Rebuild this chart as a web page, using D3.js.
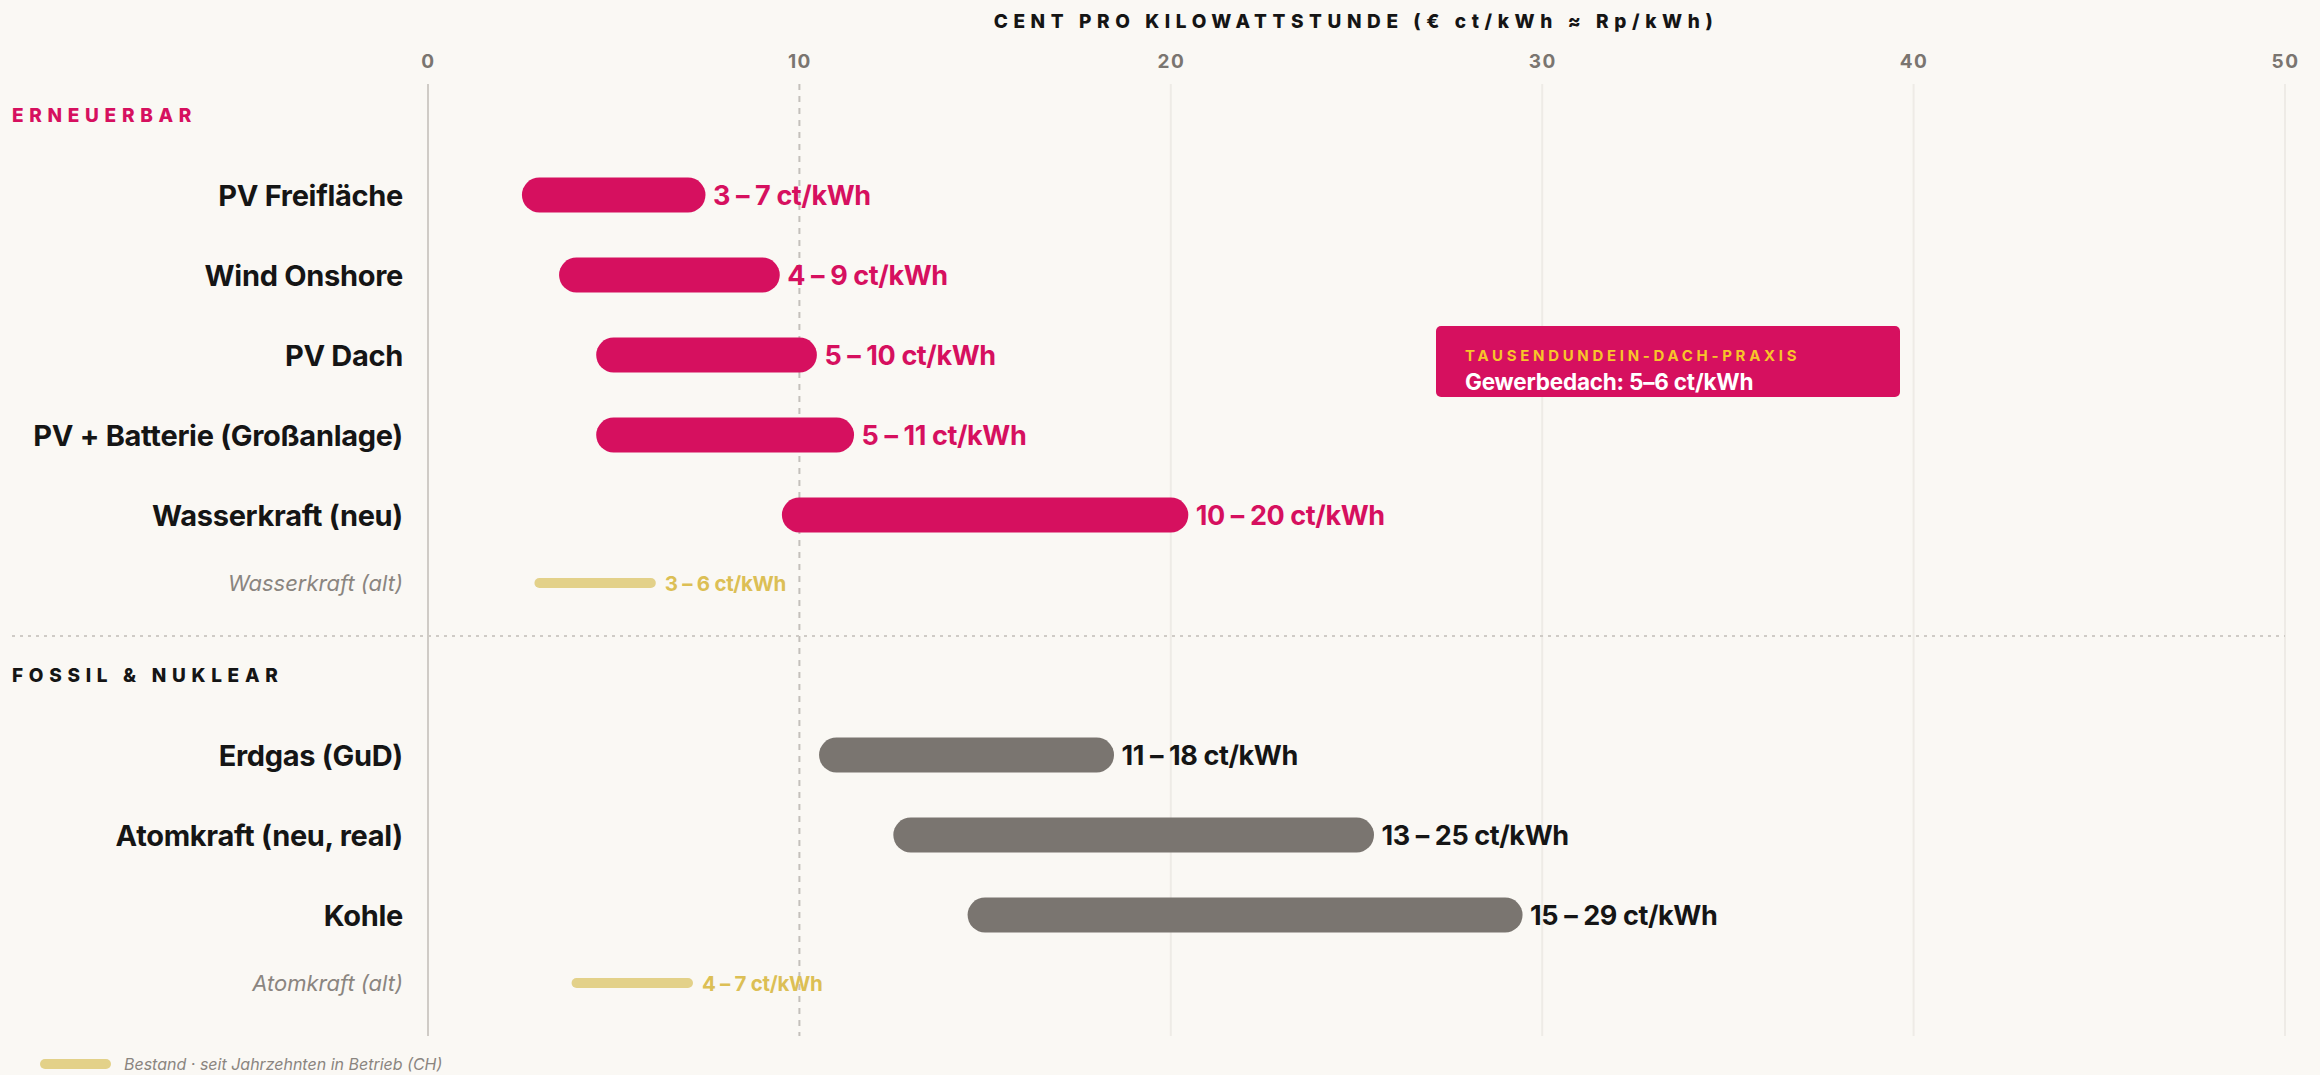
<!DOCTYPE html>
<html>
<head>
<meta charset="utf-8">
<script src="https://cdn.jsdelivr.net/npm/d3@7"></script>
<style>
  html, body { margin: 0; padding: 0; background: #faf8f4; }
  svg { display: block; font-family: Inter, "Noto Sans", sans-serif; }
</style>
</head>
<body>
<div id="chart"></div>
<script>
// values (ct/kWh)
const renewableNames = ["PV Freifläche", "Wind Onshore", "PV Dach", "PV + Batterie (Großanlage)", "Wasserkraft (neu)"];
const renewableLow = [3, 4, 5, 5, 10];
const renewableHigh = [7, 9, 10, 11, 20];

const fossilNames = ["Erdgas (GuD)", "Atomkraft (neu, real)", "Kohle"];
const fossilLow = [11, 13, 15];
const fossilHigh = [18, 25, 29];

const legacyNames = ["Wasserkraft (alt)", "Atomkraft (alt)"];
const legacyLow = [3, 4];
const legacyHigh = [6, 7];

const xTicks = [0, 10, 20, 30, 40, 50];
const sectionTitles = ["ERNEUERBAR", "FOSSIL & NUKLEAR"];
const axisTitle = "CENT PRO KILOWATTSTUNDE (€ ct/kWh ≈ Rp/kWh)";
const noteTitle = "TAUSENDUNDEIN-DACH-PRAXIS";
const noteText = "Gewerbedach: 5–6 ct/kWh";
const legendText = "Bestand · seit Jahrzehnten in Betrieb (CH)";

const width = 2320, height = 1075;
const pink = "#d6105f", gray = "#7a7570", gold = "#e3d189", goldText = "#dcbf55", dark = "#151515";

const svg = d3.select("#chart").append("svg")
  .attr("width", width)
  .attr("height", height);

const x = d3.scaleLinear().domain([0, 50]).range([428, 2285]);

// row layout
const rowStep = 80, altStep = 68;
const groups = [
  { title: sectionTitles[0], names: renewableNames, low: renewableLow, high: renewableHigh, color: pink, textColor: pink, legacy: 0, headColor: pink },
  { title: sectionTitles[1], names: fossilNames, low: fossilLow, high: fossilHigh, color: gray, textColor: dark, legacy: 1, headColor: dark }
];
let yCursor = 115;
groups.forEach(g => {
  g.headY = yCursor;
  g.rowY = g.names.map((n, i) => yCursor + rowStep * (i + 1));
  g.altY = g.rowY[g.rowY.length - 1] + altStep;
  g.sepY = g.altY + 53;
  yCursor = g.sepY + 39;
});
const gridTop = 84, gridBottom = 1036;

// axis title
svg.append("text")
  .attr("x", 1356).attr("y", 21)
  .attr("text-anchor", "middle").attr("dominant-baseline", "central")
  .style("font-size", "19px").style("font-weight", 800).style("letter-spacing", "5.6px")
  .attr("fill", dark)
  .text(axisTitle);

// grid lines
const grid = svg.append("g");
grid.selectAll("line")
  .data(xTicks)
  .enter().append("line")
  .attr("x1", d => x(d)).attr("x2", d => x(d))
  .attr("y1", gridTop).attr("y2", gridBottom)
  .attr("stroke", d => d === 0 ? "#cfcbc6" : (d === 10 ? "#c4c0bb" : "#eeebe6"))
  .attr("stroke-width", 2)
  .attr("stroke-dasharray", d => d === 10 ? "6,6" : null);

// tick labels via axis
const xAxis = d3.axisTop(x).tickValues(xTicks).tickSize(0).tickPadding(0);
const axisG = svg.append("g").attr("transform", "translate(0,61)").call(xAxis);
axisG.select(".domain").remove();
axisG.selectAll("text")
  .attr("dy", "0.35em")
  .attr("fill", "#7a7570")
  .style("font-family", "Inter, sans-serif")
  .style("font-size", "19px").style("font-weight", 700).style("letter-spacing", "1.5px");

// separator
svg.append("line")
  .attr("x1", 12).attr("x2", x(50))
  .attr("y1", groups[0].sepY).attr("y2", groups[0].sepY)
  .attr("stroke", "#cfcbc6").attr("stroke-width", 2).attr("stroke-dasharray", "3,5");

groups.forEach(g => {
  // section header
  svg.append("text")
    .attr("x", 12).attr("y", g.headY)
    .attr("dominant-baseline", "central")
    .style("font-size", "19px").style("font-weight", 800).style("letter-spacing", "5.7px")
    .attr("fill", g.headColor)
    .text(g.title);

  const rows = g.names.map((n, i) => ({ name: n, low: g.low[i], high: g.high[i], y: g.rowY[i] }));

  svg.append("g").selectAll("text")
    .data(rows).enter().append("text")
    .attr("x", 403).attr("y", d => d.y)
    .attr("text-anchor", "end").attr("dominant-baseline", "central")
    .style("font-size", "29px").style("font-weight", 700).style("letter-spacing", "-0.3px")
    .attr("fill", dark)
    .text(d => d.name);

  svg.append("g").selectAll("line")
    .data(rows).enter().append("line")
    .attr("x1", d => x(d.low)).attr("x2", d => x(d.high))
    .attr("y1", d => d.y).attr("y2", d => d.y)
    .attr("stroke", g.color).attr("stroke-width", 35).attr("stroke-linecap", "round");

  svg.append("g").selectAll("text")
    .data(rows).enter().append("text")
    .attr("x", d => x(d.high) + 25).attr("y", d => d.y)
    .attr("dominant-baseline", "central")
    .style("font-size", "27px").style("font-weight", 700).style("letter-spacing", "-0.4px")
    .attr("fill", g.textColor)
    .text(d => `${d.low} – ${d.high} ct/kWh`);

  // legacy row
  const li = g.legacy;
  svg.append("text")
    .attr("x", 403).attr("y", g.altY)
    .attr("text-anchor", "end").attr("dominant-baseline", "central")
    .style("font-size", "22px").style("font-style", "italic").style("font-weight", 400)
    .attr("fill", "#8a8580")
    .text(legacyNames[li]);
  svg.append("line")
    .attr("x1", x(legacyLow[li])).attr("x2", x(legacyHigh[li]))
    .attr("y1", g.altY).attr("y2", g.altY)
    .attr("stroke", gold).attr("stroke-width", 10).attr("stroke-linecap", "round");
  svg.append("text")
    .attr("x", x(legacyHigh[li]) + 14).attr("y", g.altY)
    .attr("dominant-baseline", "central")
    .style("font-size", "20.5px").style("font-weight", 700).style("letter-spacing", "-0.3px")
    .attr("fill", goldText)
    .text(`${legacyLow[li]} – ${legacyHigh[li]} ct/kWh`);
});

// annotation box
const note = svg.append("g").attr("transform", "translate(1436,326)");
note.append("rect")
  .attr("width", 464).attr("height", 71).attr("rx", 5)
  .attr("fill", pink);
note.append("text")
  .attr("x", 29).attr("y", 29).attr("dominant-baseline", "central")
  .style("font-size", "15px").style("font-weight", 700).style("letter-spacing", "3.7px")
  .attr("fill", "#f7c52a")
  .text(noteTitle);
note.append("text")
  .attr("x", 29).attr("y", 55).attr("dominant-baseline", "central")
  .style("font-size", "22.5px").style("font-weight", 700).style("letter-spacing", "-0.2px")
  .attr("fill", "#ffffff")
  .text(noteText);

// legend
svg.append("line")
  .attr("x1", 45).attr("x2", 106).attr("y1", 1064).attr("y2", 1064)
  .attr("stroke", gold).attr("stroke-width", 10).attr("stroke-linecap", "round");
svg.append("text")
  .attr("x", 124).attr("y", 1064).attr("dominant-baseline", "central")
  .style("font-size", "16px").style("font-style", "italic")
  .attr("fill", "#8a8580")
  .text(legendText);
</script>
</body>
</html>
